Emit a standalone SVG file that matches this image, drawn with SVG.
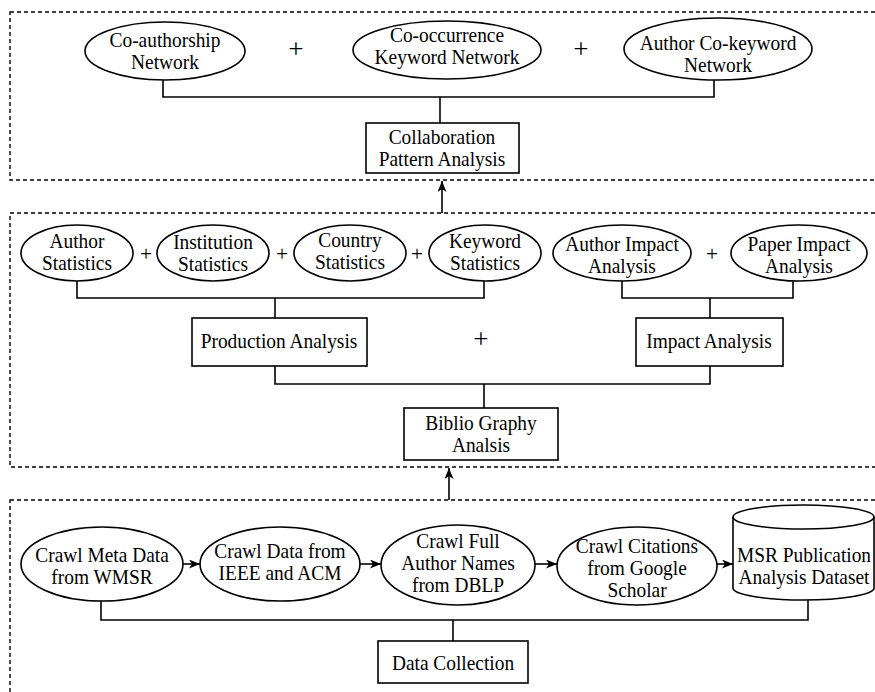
<svg xmlns="http://www.w3.org/2000/svg" width="875" height="692" viewBox="0 0 875 692">
<style>
.frame{fill:none;stroke:#000;stroke-width:1.4;stroke-dasharray:4 3}
.n{fill:#fff;stroke:#000;stroke-width:1.6}
.c{fill:none;stroke:#000;stroke-width:1.6}
text{font-family:"Liberation Serif","Times New Roman",serif;font-size:20px;fill:#000;text-anchor:middle;transform-box:fill-box;transform-origin:center;transform:scaleX(0.97)}
.p{font-size:22px}
.pb{font-size:28px}
</style>
<defs>
<marker id="ah" markerUnits="userSpaceOnUse" markerWidth="12" markerHeight="10" refX="11" refY="4.5" orient="auto">
<path d="M0,0 L11,4.5 L0,9 L3,4.5 Z" fill="#000"/>
</marker>
</defs>
<rect width="875" height="692" fill="#fff"/>
<g id="frames">
<rect class="frame" x="10" y="12" width="880" height="168"/>
<rect class="frame" x="10" y="213" width="880" height="254"/>
<rect class="frame" x="10" y="500" width="880" height="210"/>
</g>
<g id="connectors">
<polyline class="c" points="163,80 163,97 714,97 714,80"/>
<line class="c" x1="440" y1="97" x2="440" y2="123"/>
<line class="c" x1="442" y1="213" x2="442" y2="181" marker-end="url(#ah)"/>
<polyline class="c" points="77,281 77,298 484,298 484,281"/>
<line class="c" x1="275" y1="298" x2="275" y2="318"/>
<polyline class="c" points="622,281 622,298 793,298 793,281"/>
<line class="c" x1="710" y1="298" x2="710" y2="318"/>
<polyline class="c" points="275,366 275,384 710,384 710,366"/>
<line class="c" x1="484" y1="384" x2="484" y2="408"/>
<line class="c" x1="449" y1="500" x2="449" y2="468" marker-end="url(#ah)"/>
<line class="c" x1="183" y1="564" x2="200" y2="564" marker-end="url(#ah)"/>
<line class="c" x1="360" y1="564" x2="381" y2="564" marker-end="url(#ah)"/>
<line class="c" x1="535" y1="564" x2="557" y2="564" marker-end="url(#ah)"/>
<line class="c" x1="717" y1="564" x2="733" y2="564" marker-end="url(#ah)"/>
<polyline class="c" points="101,601 101,620 808,620 808,599"/>
<line class="c" x1="453" y1="620" x2="453" y2="641"/>
</g>
<g id="n-coauth"><ellipse class="n" cx="165" cy="51" rx="80" ry="29"/><text x="165" y="47">Co-authorship</text><text x="165" y="69">Network</text></g>
<text class="pb" x="296" y="58">+</text>
<g id="n-cooc"><ellipse class="n" cx="447" cy="50" rx="94" ry="29"/><text x="447" y="42">Co-occurrence</text><text x="447" y="64">Keyword Network</text></g>
<text class="pb" x="581" y="58">+</text>
<g id="n-acokw"><ellipse class="n" cx="718" cy="49" rx="94" ry="31"/><text x="718" y="50">Author Co-keyword</text><text x="718" y="72">Network</text></g>
<g id="n-collab"><rect class="n" x="366" y="123" width="153" height="50"/><text x="442" y="144">Collaboration</text><text x="442" y="166">Pattern Analysis</text></g>
<g id="n-authstat"><ellipse class="n" cx="77" cy="253" rx="56" ry="28"/><text x="77" y="248">Author</text><text x="77" y="270">Statistics</text></g>
<text class="p" x="146" y="261">+</text>
<g id="n-inststat"><ellipse class="n" cx="213" cy="253" rx="56" ry="28"/><text x="213" y="249">Institution</text><text x="213" y="271">Statistics</text></g>
<text class="p" x="282" y="261">+</text>
<g id="n-ctrystat"><ellipse class="n" cx="350" cy="253" rx="56" ry="28"/><text x="350" y="247">Country</text><text x="350" y="269">Statistics</text></g>
<text class="p" x="417" y="261">+</text>
<g id="n-kwstat"><ellipse class="n" cx="485" cy="253" rx="56" ry="28"/><text x="485" y="248">Keyword</text><text x="485" y="270">Statistics</text></g>
<g id="n-authimp"><ellipse class="n" cx="622" cy="253" rx="69" ry="28"/><text x="622" y="251">Author Impact</text><text x="622" y="273">Analysis</text></g>
<text class="p" x="712" y="261">+</text>
<g id="n-papimp"><ellipse class="n" cx="799" cy="253" rx="68" ry="28"/><text x="799" y="251">Paper Impact</text><text x="799" y="273">Analysis</text></g>
<g id="n-prod"><rect class="n" x="192" y="318" width="175" height="48"/><text x="279" y="348">Production Analysis</text></g>
<text class="pb" x="481" y="348">+</text>
<g id="n-impact"><rect class="n" x="636" y="318" width="147" height="48"/><text x="709" y="348">Impact Analysis</text></g>
<g id="n-biblio"><rect class="n" x="404" y="408" width="154" height="52"/><text x="481" y="430">Biblio Graphy</text><text x="481" y="452">Analsis</text></g>
<g id="n-crawlmeta"><ellipse class="n" cx="102" cy="564" rx="81" ry="37"/><text x="102" y="562">Crawl Meta Data</text><text x="102" y="584">from WMSR</text></g>
<g id="n-crawldata"><ellipse class="n" cx="280" cy="564" rx="80" ry="37"/><text x="280" y="558">Crawl Data from</text><text x="280" y="580">IEEE and ACM</text></g>
<g id="n-crawlfull"><ellipse class="n" cx="458" cy="565" rx="77" ry="40"/><text x="458" y="548">Crawl Full</text><text x="458" y="570">Author Names</text><text x="458" y="592">from DBLP</text></g>
<g id="n-crawlcit"><ellipse class="n" cx="637" cy="566" rx="80" ry="39"/><text x="637" y="553">Crawl Citations</text><text x="637" y="575">from Google</text><text x="637" y="597">Scholar</text></g>
<g id="n-dataset"><path class="n" d="M733,517 A70.5,12 0 0 1 874,517 L874,588 A70.5,12 0 0 1 733,588 Z"/><path class="c" d="M733,517 A70.5,12 0 0 0 874,517"/><text x="804" y="562">MSR Publication</text><text x="804" y="584">Analysis Dataset</text></g>
<g id="n-datacoll"><rect class="n" x="378" y="641" width="150" height="42"/><text x="453" y="670">Data Collection</text></g>
</svg>
